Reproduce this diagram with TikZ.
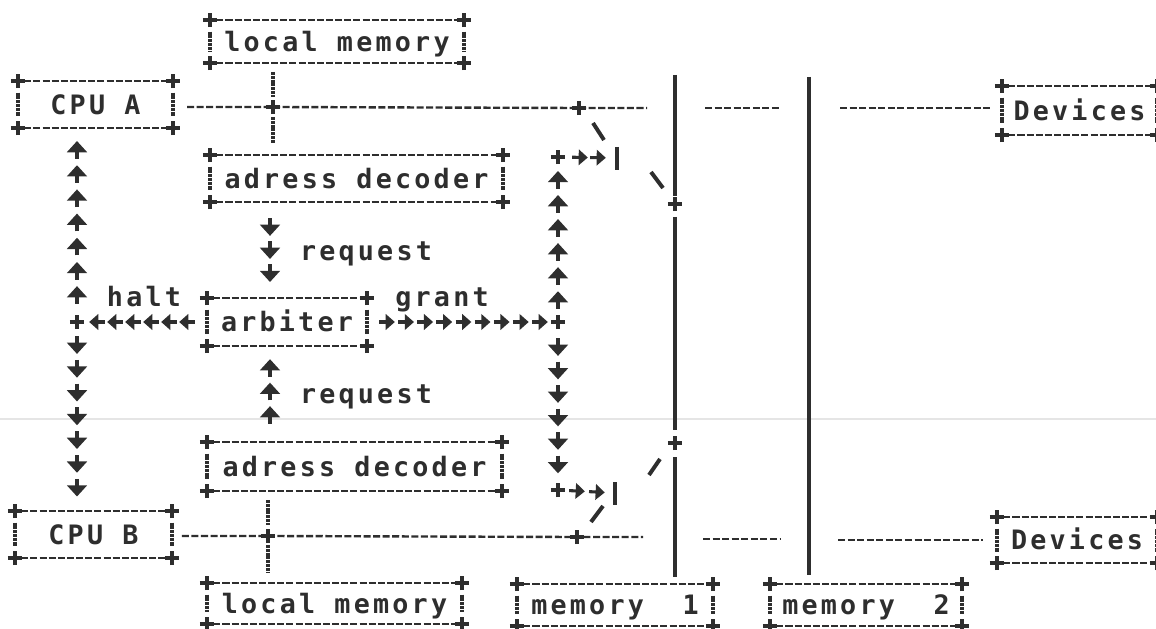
\documentclass[tikz,border=0pt]{standalone}
\usepackage{fontspec}
\newfontfamily\dm[LetterSpace=12.1, BoldFont={DejaVu Sans Mono Bold}]{DejaVu Sans Mono}
\usetikzlibrary{arrows.meta,decorations.markings}
\colorlet{ink}{black!82}
\newcommand\spc{\kern13.73pt}
\newcommand\asciibox[6]{%
  \node[boxnode, minimum width={(#4-#2)*0.025cm}, minimum height={(#5-#3)*0.025cm}] (#1) at ({(#2+#4)/2},{(#3+#5)/2}) {#6};
  \draw[hedge] (#1.north west) -- (#1.north east);
  \draw[hedge] (#1.south west) -- (#1.south east);
  \draw[vedge] (#1.north west) -- (#1.south west);
  \draw[vedge] (#1.north east) -- (#1.south east);
  \foreach \cc in {north west,north east,south west,south east}{\pic at (#1.\cc) {plusm};}
}
\tikzset{
  txt/.style={text=ink, font=\dm\bfseries\fontsize{19}{22}\selectfont, text height=13.8pt, text depth=0pt, inner sep=0pt, outer sep=0pt},
  boxnode/.style={txt},
  lbl/.style={txt},
  hedge/.style={ink, line width=1.7pt, dash pattern=on 5pt off 1.5pt, shorten <=4.5pt, shorten >=4.5pt},
  vedge/.style={ink, line width=2.4pt, dash pattern=on 2.2pt off 0.5pt, shorten <=8.2pt, shorten >=8.2pt},
  plusline/.style={ink, line width=3pt},
  plusm/.pic={\draw[plusline] (-5pt,0pt) -- (5pt,0pt) (0pt,-5pt) -- (0pt,5pt);},
  bus/.style={ink, line width=1.7pt, dash pattern=on 5pt off 1.8pt},
  vbar/.style={ink, line width=2.4pt, dash pattern=on 2.2pt off 0.5pt},
  memline/.style={ink, line width=3.2pt},
  slashl/.style={ink, line width=2.8pt},
  vglyph/.style={ink, line width=2.6pt, -{Triangle[width=14pt,length=8pt]}},
  hglyph/.style={ink, line width=2.2pt, -{Triangle[width=11pt,length=6.5pt]}},
  chain/.style n args={5}{postaction={decorate}, decoration={markings,
      mark=between positions #1 and #2 step #3 with {\draw[#4] (-#5,0pt) -- (#5,0pt);}}}
}
\begin{document}
\begin{tikzpicture}[x=0.025cm,y=-0.025cm]
\useasboundingbox (0,0) rectangle (1156,629);
\fill[white] (0,0) rectangle (1156,629);
% faint fold line of the scan
\draw[gray!20, line width=1.2pt] (0,419) -- (1156,419);

% boxes
\asciibox{lmA}{210}{20}{464}{63}{local\spc memory}
\asciibox{cpuA}{18}{81}{173}{128}{CPU\spc A}
\asciibox{adA}{210}{155}{503}{202}{adress\spc decoder}
\asciibox{arb}{207}{298}{367}{346}{arbiter}
\asciibox{adB}{207}{442}{502}{491}{adress\spc decoder}
\asciibox{cpuB}{15}{511}{172}{558}{CPU\spc B}
\asciibox{lmB}{207}{583}{462}{624}{local\spc memory}
\asciibox{mem1}{517}{584}{713}{626}{memory\spc\spc 1}
\asciibox{mem2}{770}{584}{962}{626}{memory\spc\spc 2}
\asciibox{devA}{1002}{86}{1157}{135}{Devices}
\asciibox{devB}{997}{517}{1157}{563}{Devices}

% labels
\node[lbl] (halt) at (144,297) {halt};
\node[lbl] (grant) at (442,297) {grant};
\node[lbl] (req1) at (366,251) {request};
\node[lbl] (req2) at (366,394) {request};

% junctions
\coordinate (jA) at (273,107);
\coordinate (jA2) at (579,108);
\coordinate (aE1) at (647,108);
\coordinate (aS2) at (705,108);
\coordinate (aE2) at (780,108);
\coordinate (aS3) at (840,108);
\coordinate (jB) at (268,536);
\coordinate (jB2) at (577,537);
\coordinate (bE1) at (643,537);
\coordinate (bS2) at (703,539);
\coordinate (bE2) at (780,539);
\coordinate (bS3) at (838,540);
\coordinate (jL) at (77,322);
\coordinate (jR) at (558,322);
\coordinate (tR) at (558,157);
\coordinate (bR) at (558,490);
\coordinate (cA) at (617,158);
\coordinate (cB) at (615,493);
\coordinate (rq) at (270,0);
\coordinate (m1top) at (675,75);
\coordinate (p1) at (675,204);
\coordinate (p2) at (675,443);
\coordinate (m2top) at (809,77);
\foreach \j in {jA,jA2,jB,jB2,jL,jR,tR,bR,p1,p2}{\pic at (\j) {plusm};}

% buses
\draw[bus, shorten <=10pt] (cpuA.east |- jA) -- (jA) -- (jA2) -- (aE1);
\draw[bus] (aS2) -- (aE2);
\draw[bus, shorten >=8.5pt] (aS3) -- (devA.west |- aS3);
\draw[bus, shorten <=7pt] (cpuB.east |- jB) -- (jB) -- (jB2) -- (bE1);
\draw[bus] (bS2) -- (bE2);
\draw[bus, shorten >=10pt] (bS3) -- (devB.west |- bS3);

% local memory taps
\draw[vbar, shorten <=6.4pt, shorten >=7.1pt] (lmA.south -| jA) -- (jA);
\draw[vbar, shorten <=7.1pt, shorten >=8.5pt] (jA) -- (adA.north -| jA);
\draw[vbar, shorten <=6.4pt, shorten >=7.8pt] (adB.south -| jB) -- (jB);
\draw[vbar, shorten <=6.4pt, shorten >=7.1pt] (jB) -- (lmB.north -| jB);

% shared memory lines
\draw[memline, shorten >=5.7pt] (m1top) -- (p1);
\draw[memline, shorten <=9.2pt, shorten >=9.2pt] (p1) -- (p2);
\draw[memline, shorten <=10pt, shorten >=5pt] (p2) -- (mem1.north -| p2);
\draw[memline, shorten >=6.4pt] (m2top) -- (mem2.north -| m2top);

% switches
\draw[slashl] (cA) ++(0,-11) -- ++(0,23);
\draw[slashl] (cB) ++(0,-11) -- ++(0,23);
\draw[slashl] (593,123) -- (604,140);
\draw[slashl] (651,172) -- (663,188);
\draw[slashl] (591,522) -- (603,506);
\draw[slashl] (649,475) -- (660,459);

% arrow chains
\path[chain={19.2pt}{125pt}{17.2pt}{vglyph}{6.3pt}] (jL) -- (jL |- cpuA.south);
\path[chain={16.4pt}{121pt}{16.9pt}{vglyph}{6.3pt}] (jL) -- (jL |- cpuB.north);
\path[chain={14.2pt}{81pt}{12.8pt}{hglyph}{5.6pt}] (arb.west) -- (jL);
\path[chain={14.2pt}{126pt}{13.6pt}{hglyph}{5.6pt}] (arb.east) -- (jR);
\path[chain={15.6pt}{104pt}{17.1pt}{vglyph}{6.3pt}] (jR) -- (tR);
\path[chain={17.8pt}{104pt}{16.7pt}{vglyph}{6.3pt}] (jR) -- (bR);
\path[chain={15.6pt}{30pt}{12.8pt}{hglyph}{5.6pt}] (tR) -- (cA);
\path[chain={13.5pt}{30pt}{14.2pt}{hglyph}{5.6pt}] (bR) -- (cB);
\path[chain={17.8pt}{52pt}{16.4pt}{vglyph}{6.3pt}] (adA.south -| rq) -- (arb.north -| rq);
\path[chain={19.2pt}{54pt}{16.7pt}{vglyph}{6.3pt}] (adB.north -| rq) -- (arb.south -| rq);
\end{tikzpicture}
\end{document}
